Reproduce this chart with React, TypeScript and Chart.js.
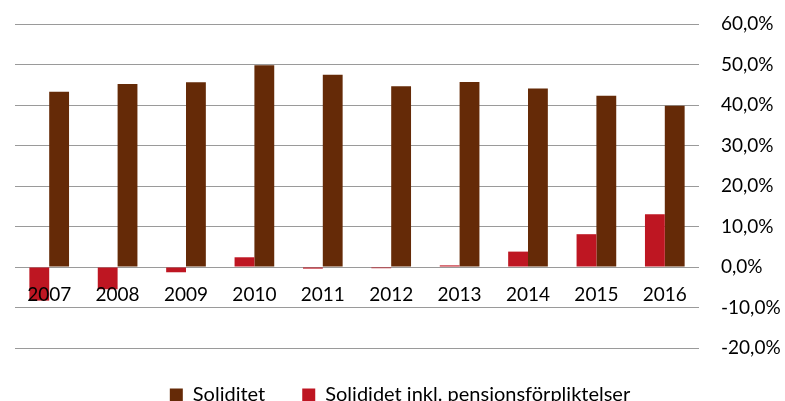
import React, { useEffect, useRef } from "react";
import { Chart, registerables } from "chart.js";

Chart.register(...registerables);

const years = ["2007", "2008", "2009", "2010", "2011", "2012", "2013", "2014", "2015", "2016"];
const soliditet = [43.3, 45.2, 45.6, 49.8, 47.5, 44.6, 45.7, 44.1, 42.3, 39.8];
const soliditetInklPension = [-8.3, -5.5, -1.3, 2.4, -0.4, -0.3, 0.4, 3.8, 8.1, 13.0];
const yTicks = { min: -20, max: 60, step: 10 };

const FONT = "Lato, 'Open Sans', sans-serif";

export default function App() {
  const ref = useRef<HTMLCanvasElement | null>(null);
  useEffect(() => {
    if (!ref.current) return;
    const chart = new Chart(ref.current, {
      type: "bar",
      data: {
        labels: years,
        datasets: [
          {
            label: "Solididet inkl. pensionsförpliktelser",
            data: soliditetInklPension,
            backgroundColor: "#BE1622",
            categoryPercentage: 0.58,
            barPercentage: 1,
          },
          {
            label: "Soliditet",
            data: soliditet,
            backgroundColor: "#652A07",
            categoryPercentage: 0.58,
            barPercentage: 1,
          },
        ],
      },
      options: {
        animation: false,
        responsive: false,
        maintainAspectRatio: false,
        layout: { padding: { left: 15, top: 24, right: 0, bottom: -14 } },
        plugins: {
          tooltip: { enabled: false },
          legend: {
            position: "bottom",
            reverse: true,
            labels: {
              boxWidth: 13,
              boxHeight: 13,
              padding: 37,
              color: "#000",
              font: { family: FONT, size: 20 },
            },
          },
        },
        scales: {
          x: {
            position: { y: 0 } as any,
            grid: { display: false, drawTicks: false },
            border: { display: false },
            ticks: {
              z: 1,
              padding: 16,
              color: "#000",
              font: { family: FONT, size: 19 },
            },
          },
          y: {
            position: "right",
            min: yTicks.min,
            max: yTicks.max,
            afterFit: (scale: any) => {
              scale.width = 86;
              scale.paddingTop = 0;
              scale.paddingBottom = 0;
            },
            grid: { color: "#9a9a9a", lineWidth: 1, drawTicks: false },
            border: { display: false },
            ticks: {
              stepSize: yTicks.step,
              padding: 22,
              color: "#000",
              font: { family: FONT, size: 19 },
              callback: (v: any) => Number(v).toFixed(1).replace(".", ",") + "%",
            },
          },
        },
      },
    });
    return () => chart.destroy();
  }, []);
  return (
    <div style={{ position: "absolute", left: 0, top: 0, width: 785, height: 401, background: "#fff" }}>
      <canvas ref={ref} width={785} height={401} style={{ display: "block" }} />
    </div>
  );
}
